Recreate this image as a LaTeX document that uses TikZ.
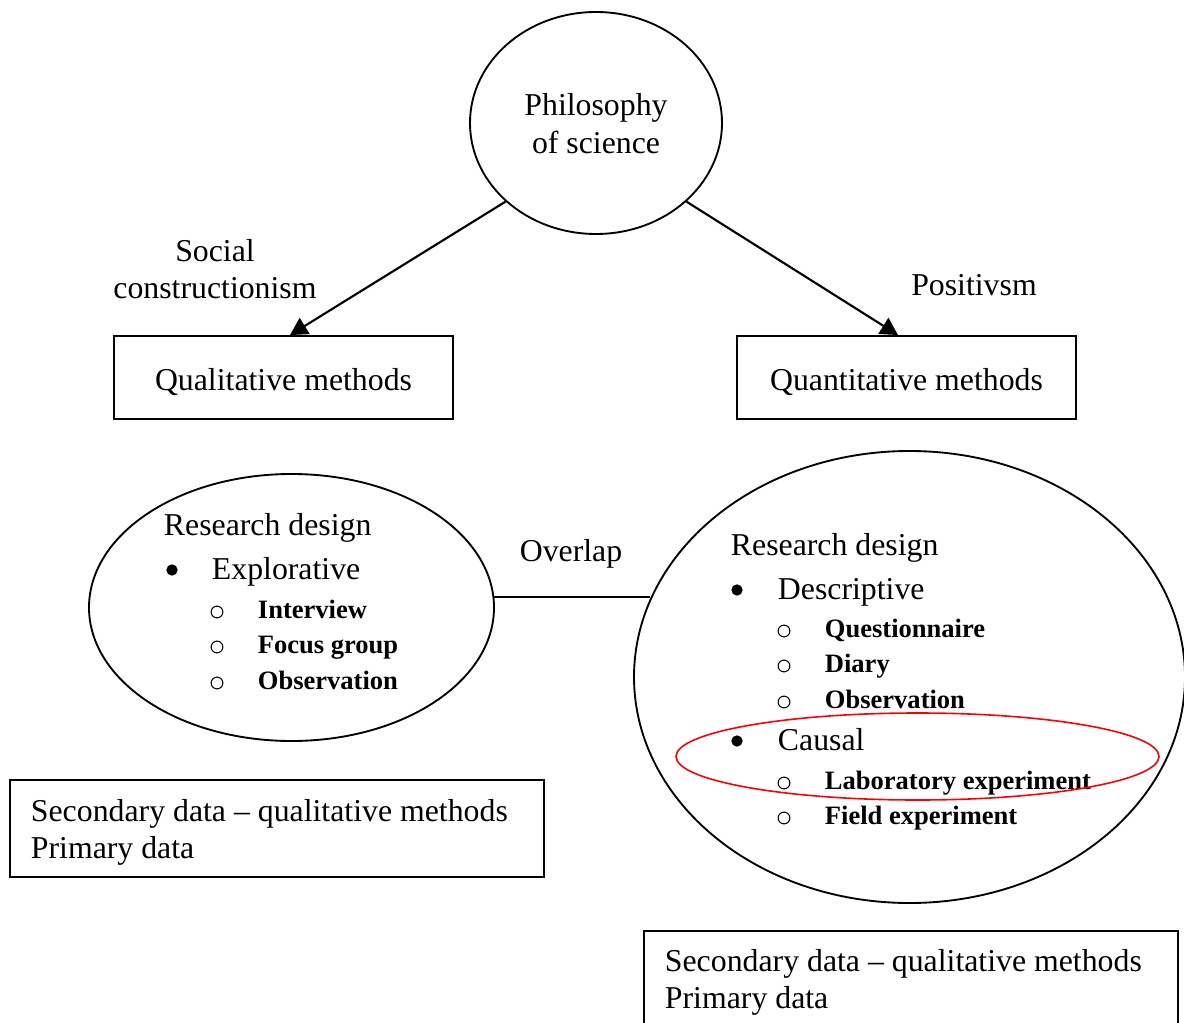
\documentclass[tikz,border=0pt]{standalone}
\usepackage{fontspec}
\setmainfont{Liberation Serif}
\usetikzlibrary{shapes.geometric,arrows.meta,calc}
\begin{document}
\begin{tikzpicture}[x=0.75pt,y=-0.75pt,
  line width=1.4pt,
  ell/.style={draw, ellipse, inner sep=0pt, line width=1.4pt},
  box/.style={draw, rectangle, inner sep=0pt, line width=1.4pt},
  txt/.style={inner sep=0pt, anchor=base west, font=\fontsize{23.85pt}{28pt}\selectfont},
  ctxt/.style={inner sep=0pt, anchor=base, font=\fontsize{23.85pt}{28pt}\selectfont},
  btxt/.style={inner sep=0pt, anchor=base west, font=\fontsize{19.9pt}{24pt}\selectfont\bfseries},
  dot/.style={circle, fill, inner sep=0pt, minimum size=8.5pt},
  odot/.style={circle, draw, inner sep=0pt, minimum size=8.8pt, line width=0.8pt},
  arr/.style={-{Triangle[length=13pt,width=14pt]}, line width=1.6pt}
]
\useasboundingbox (0,0) rectangle (1184,1023);

% top ellipse
\node[ell, minimum width=189pt, minimum height=166.5pt] (phil) at (596,123) {};
\node[ctxt] (philA) at (596,116) {Philosophy};
\node[ctxt] (philB) at (596,154) {of science};

% boxes
\node[box, minimum width=254.25pt, minimum height=62.25pt] (qual) at (283.5,377.5) {};
\node[ctxt] (qualT) at (283.5,390) {Qualitative methods};
\node[box, minimum width=254.25pt, minimum height=62.25pt] (quant) at (906.5,377.5) {};
\node[ctxt] (quantT) at (906.5,390) {Quantitative methods};

% labels
\node[ctxt] (soc1) at (215,262) {Social};
\node[ctxt] (soc2) at (215,299) {constructionism};
\node[ctxt] (pos) at (974,296) {Positivsm};

% arrows
\draw[arr] (phil.221.6) -- ($(qual.north)+(6.5,0)$);
\draw[arr] (phil.-41.9) -- ($(quant.north)+(-8.5,0)$);

% left ellipse
\node[ell, minimum width=303.75pt, minimum height=200.25pt] (lell) at (291.5,607.5) {};
\node[txt] (lrd) at (163,535) {Research design};
\node[dot] (lb1) at (172,570) {};
\node[txt] (lexp) at (211,579) {Explorative};
\node[odot] (lo1) at (217,612) {};
\node[btxt] (lint) at (257,618) {Interview};
\node[odot] (lo2) at (217,647) {};
\node[btxt] (lfoc) at (257,653) {Focus group};
\node[odot] (lo3) at (217,683) {};
\node[btxt] (lobs) at (257,689) {Observation};

% right ellipse
\node[ell, minimum width=413.25pt, minimum height=339pt] (rell) at (909.5,677) {};
\node[txt] (rrd) at (730,555) {Research design};
\node[dot] (rb1) at (737,590) {};
\node[txt] (rdes) at (777,599) {Descriptive};
\node[odot] (ro1) at (784,631) {};
\node[btxt] (rq) at (824,637) {Questionnaire};
\node[odot] (ro2) at (784,666) {};
\node[btxt] (rdi) at (824,672) {Diary};
\node[odot] (ro3) at (784,702) {};
\node[btxt] (rob) at (824,708) {Observation};
\node[dot] (rb2) at (737,741) {};
\node[txt] (rca) at (777,750) {Causal};
\node[odot] (ro4) at (784,783) {};
\node[btxt] (rlab) at (824,789) {Laboratory experiment};
\node[odot] (ro5) at (784,818) {};
\node[btxt] (rfie) at (824,824) {Field experiment};

% red ellipse
\node[draw=red, ellipse, inner sep=0pt, line width=1.2pt, minimum width=362.25pt, minimum height=65.25pt] (red) at (917.5,756.5) {};

% overlap
\draw[line width=1.2pt] (lell.3.6) -- (lell.3.6 -| rell.163);
\node[ctxt] (ovl) at (571,561) {Overlap};

% bottom boxes
\node[box, minimum width=400.5pt, minimum height=72.75pt] (bl) at (277,828.5) {};
\node[txt] (bl1) at (30,821) {Secondary data – qualitative methods};
\node[txt] (bl2) at (30,858) {Primary data};
\node[box, minimum width=400.5pt, minimum height=81.75pt] (br) at (911,985.5) {};
\node[txt] (br1) at (664,971) {Secondary data – qualitative methods};
\node[txt] (br2) at (664,1008) {Primary data};
\end{tikzpicture}
\end{document}
